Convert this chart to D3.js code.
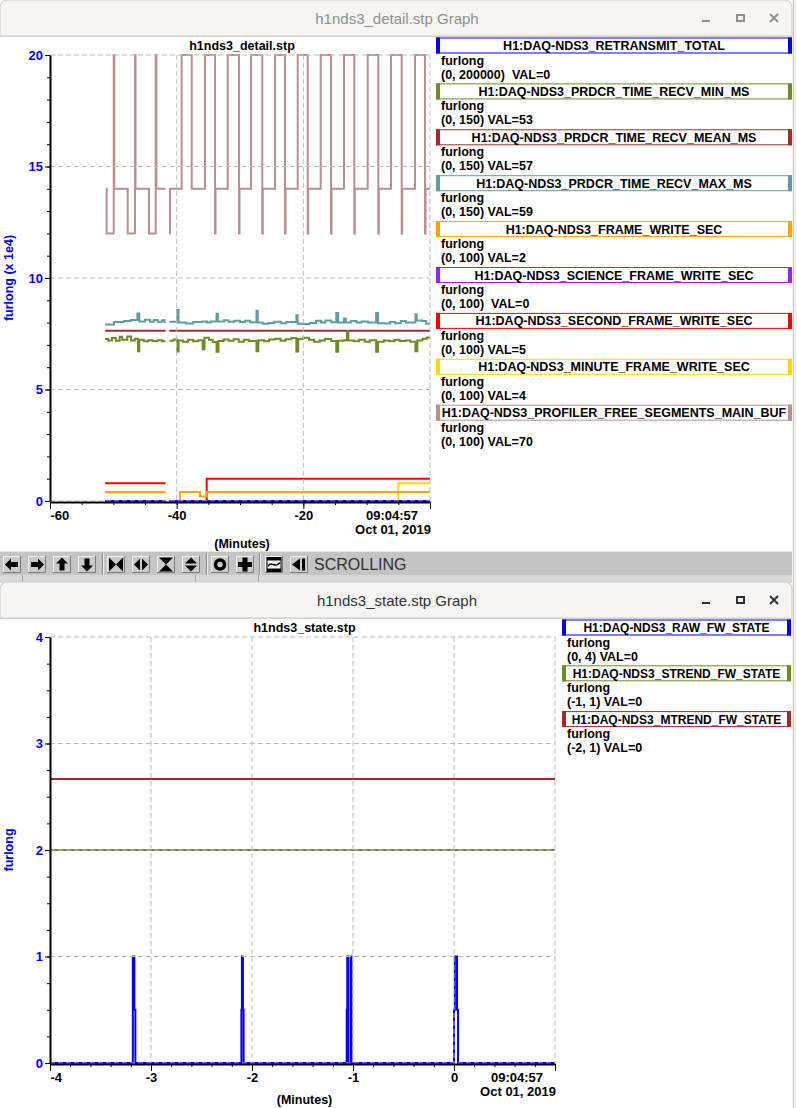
<!DOCTYPE html>
<html>
<head>
<meta charset="utf-8">
<script src="https://cdn.jsdelivr.net/npm/d3@7"></script>
<style>
  body { margin: 0; background: #ffffff; }
  svg text { font-family: "Liberation Sans", Arial, sans-serif; }
  .pre { white-space: pre; }
</style>
</head>
<body>
<svg id="shot" width="797" height="1108"></svg>
<script>
// ---------- h1nds3_detail.stp (top graph) ----------
var detailChannels = [
  "H1:DAQ-NDS3_RETRANSMIT_TOTAL",
  "H1:DAQ-NDS3_PRDCR_TIME_RECV_MIN_MS",
  "H1:DAQ-NDS3_PRDCR_TIME_RECV_MEAN_MS",
  "H1:DAQ-NDS3_PRDCR_TIME_RECV_MAX_MS",
  "H1:DAQ-NDS3_FRAME_WRITE_SEC",
  "H1:DAQ-NDS3_SCIENCE_FRAME_WRITE_SEC",
  "H1:DAQ-NDS3_SECOND_FRAME_WRITE_SEC",
  "H1:DAQ-NDS3_MINUTE_FRAME_WRITE_SEC",
  "H1:DAQ-NDS3_PROFILER_FREE_SEGMENTS_MAIN_BUF"
];
var detailRanges = [[0, 200000], [0, 150], [0, 150], [0, 150], [0, 100], [0, 100], [0, 100], [0, 100], [0, 100]];
var detailValues = [0, 53, 57, 59, 2, 0, 5, 4, 70];
var detailColors = ["#0000ff", "#6b8e23", "#a52a2a", "#5f9ea0", "#ffa500", "#a020f0", "#ff0000", "#ffd700", "#bc8f8f"];
var detailXTicks = [-60, -40, -20, 0];
var detailXLabels = [-60, -40, -20];
var detailYTicks = [0, 5, 10, 15, 20];

// samples: [minutes before now, raw value]; null = no data
var retransmitTotal = [[-51.3, 0], [-41.75, null], [-41.15, 0], [0, 0]];
var recvMin = [
  [-51.3, 54.5], [-50.8, 54.0], [-50.2, 54.8], [-49.6, 53.9], [-49.0, 55.2], [-48.6, 54.2], [-47.8, 55.3],
  [-47.2, 54.0], [-46.6, 54.6], [-46.1, 50.4], [-45.9, 54.2], [-45.2, 53.7], [-44.5, 54.1], [-43.8, 53.8],
  [-43.0, 54.1], [-42.3, 53.7], [-41.75, null],
  [-41.15, 53.9], [-40.5, 54.3], [-39.9, 50.3], [-39.7, 54.0], [-39.0, 53.6], [-38.2, 54.2], [-37.4, 53.7],
  [-36.6, 54.1], [-35.9, 51.0], [-35.6, 54.9], [-34.9, 54.2], [-34.3, 53.5], [-33.7, 50.2], [-33.4, 53.8],
  [-32.6, 54.3], [-31.8, 53.9], [-31.0, 54.4], [-30.2, 53.6], [-29.4, 54.2], [-28.6, 53.8], [-27.4, 50.4],
  [-27.1, 54.1], [-26.2, 53.7], [-25.4, 54.3], [-24.5, 54.6], [-23.6, 53.9], [-22.8, 54.4], [-21.9, 54.8],
  [-21.1, 50.3], [-20.8, 54.5], [-20.0, 54.9], [-19.1, 54.2], [-18.3, 53.6], [-17.4, 54.0], [-16.6, 54.5],
  [-15.6, 53.8], [-14.8, 50.2], [-14.5, 53.9], [-13.6, 54.1], [-13.1, 57.2], [-12.9, 54.0], [-12.0, 53.7],
  [-11.2, 54.2], [-10.3, 53.6], [-9.5, 54.1], [-8.5, 50.2], [-8.2, 53.6], [-7.3, 54.0], [-6.4, 53.7],
  [-5.6, 54.2], [-4.8, 53.8], [-3.9, 54.0], [-3.1, 53.6], [-2.3, 50.4], [-2.0, 54.0], [-1.2, 54.6],
  [-0.5, 55.0], [0, 55.0]
];
var recvMean = [[-51.3, 57.3], [-41.75, null], [-41.15, 57.3], [0, 57.3]];
var recvMax = [
  [-51.3, 59.4], [-49.9, 60.2], [-48.3, 60.5], [-47.2, 60.9], [-46.2, 63.1], [-45.9, 60.4], [-45.0, 61.0],
  [-44.2, 60.3], [-43.6, 60.9], [-43.0, 60.3], [-42.3, 60.8], [-41.9, 60.2], [-41.75, null],
  [-41.15, 60.3], [-39.9, 64.2], [-39.7, 60.0], [-38.5, 59.7], [-37.4, 60.2], [-36.0, 60.4], [-35.2, 60.0],
  [-34.6, 60.4], [-33.7, 63.0], [-33.5, 60.4], [-32.5, 60.8], [-31.8, 60.3], [-30.9, 60.6], [-30.0, 60.2],
  [-29.2, 60.6], [-28.4, 60.1], [-27.4, 64.0], [-27.2, 60.0], [-26.4, 59.6], [-25.5, 59.9], [-24.6, 60.3],
  [-23.5, 59.8], [-22.7, 60.2], [-21.1, 62.5], [-20.9, 59.6], [-20.0, 59.5], [-19.0, 59.9], [-18.0, 60.6],
  [-17.2, 60.0], [-16.5, 60.7], [-15.6, 60.1], [-14.8, 63.2], [-14.5, 60.0], [-13.6, 61.4], [-13.3, 60.0],
  [-12.5, 60.5], [-11.6, 60.0], [-10.8, 60.4], [-9.8, 60.0], [-8.5, 63.2], [-8.2, 59.8], [-7.2, 59.7],
  [-6.3, 60.2], [-5.5, 59.8], [-4.6, 60.5], [-3.8, 60.0], [-2.3, 62.8], [-2.1, 60.7], [-1.2, 60.5],
  [-0.6, 59.6], [0, 59.6]
];
var frameWrite = [[-51.3, 2], [-41.75, null], [-41.15, 0], [-39.47, 2], [-36.32, 1], [-35.26, 2], [0, 2]];
var scienceFrameWrite = [[-51.3, 0], [-41.75, null], [-41.15, 0], [0, 0]];
var secondFrameWrite = [[-51.3, 4], [-41.75, null], [-41.15, 0], [-35.26, 5], [0, 5]];
var minuteFrameWrite = [[-51.3, 0], [-41.75, null], [-41.15, 0], [-5.0, 4], [0, 4]];
var freeSegments = [
  [-51.2, 70], [-51.05, 60], [-49.94, 100], [-49.85, 70], [-47.73, 60], [-46.58, 100], [-46.5, 70],
  [-44.37, 60], [-43.31, 100], [-43.2, 70], [-41.75, null],
  [-41.15, 60], [-41.05, 70], [-39.21, 100], [-37.63, 70], [-35.53, 100], [-33.95, 60], [-33.87, 70],
  [-31.94, 100], [-30.16, 60], [-30.08, 70], [-28.26, 100], [-26.48, 60], [-26.4, 70], [-24.47, 100],
  [-22.89, 60], [-22.81, 70], [-20.89, 100], [-19.31, 60], [-19.23, 70], [-17.26, 100], [-15.63, 60],
  [-15.55, 70], [-13.58, 100], [-11.95, 60], [-11.87, 70], [-9.84, 100], [-8.16, 60], [-8.08, 70],
  [-6.16, 100], [-4.47, 60], [-4.39, 70], [-2.37, 100], [-0.79, 60], [-0.71, 70], [0, 70]
];

// ---------- h1nds3_state.stp (bottom graph) ----------
var stateChannels = ["H1:DAQ-NDS3_RAW_FW_STATE", "H1:DAQ-NDS3_STREND_FW_STATE", "H1:DAQ-NDS3_MTREND_FW_STATE"];
var stateRanges = [[0, 4], [-1, 1], [-2, 1]];
var stateValues = [0, 0, 0];
var stateColors = ["#0000ff", "#6b8e23", "#a52a2a"];
var stateXTicks = [-4, -3, -2, -1, 0, 1];
var stateXLabels = [-4, -3, -2, -1, 0];
var stateYTicks = [0, 1, 2, 3, 4];
var rawFwState = [
  [-4, 0], [-3.18, 1], [-3.165, 0.5], [-3.155, 0], [-2.105, 0.5], [-2.1, 1], [-2.09, 0.5], [-2.083, 0],
  [-1.062, 0.5], [-1.057, 1], [-1.05, 0], [-1.025, 1], [-1.015, 0], [0, 0.5], [0.008, 1], [0.03, 0.5],
  [0.04, 0], [1, 0]
];
var strendFwState = [[-4, 0], [1, 0]];
var mtrendFwState = [[-4, 0], [1, 0]];

var stampTime = new Date(2019, 9, 1, 9, 4, 57);

var svg = d3.select("#shot");
var BOLD = "bold";

// ---------- desktop / window chrome ----------
svg.append("rect").attr("width", 797).attr("height", 1108).attr("fill", "#ffffff");
svg.append("rect").attr("x", 792).attr("y", 0).attr("width", 5).attr("height", 1108).attr("fill", "#f2f1f0");
svg.append("line").attr("x1", 793.5).attr("x2", 793.5).attr("y1", 0).attr("y2", 1108).attr("stroke", "#c8c8c8");

function titleBar(y0, y1, title, active) {
  var g = svg.append("g");
  g.append("path")
    .attr("d", "M0," + y1 + "V" + (y0 + 8) + "Q0," + y0 + " 8," + y0 + "H784Q792," + y0 + " 792," + (y0 + 8) + "V" + y1 + "Z")
    .attr("fill", "#f6f5f4").attr("stroke", "#cfcbc7");
  g.append("line").attr("x1", 0).attr("x2", 792).attr("y1", y1 + 0.5).attr("y2", y1 + 0.5).attr("stroke", "#d6d1cd");
  var c = active ? "#2e3436" : "#8f8f8f";
  g.append("text").attr("x", 397).attr("y", (y0 + y1) / 2 + 5.5).attr("text-anchor", "middle")
    .attr("font-size", 15).attr("fill", c).text(title);
  var cy = (y0 + y1) / 2;
  g.append("line").attr("x1", 702).attr("x2", 710).attr("y1", cy + 3).attr("y2", cy + 3).attr("stroke", c).attr("stroke-width", 2);
  g.append("rect").attr("x", 737).attr("y", cy - 3).attr("width", 7).attr("height", 6).attr("fill", "none").attr("stroke", c).attr("stroke-width", 2);
  g.append("path").attr("d", "M770," + (cy - 4) + "l8,8M778," + (cy - 4) + "l-8,8").attr("stroke", c).attr("stroke-width", 2);
}
titleBar(0, 36, "h1nds3_detail.stp Graph", false);

// toolbar of the top window
var tb = svg.append("g");
tb.append("rect").attr("x", 0).attr("y", 551).attr("width", 792).attr("height", 24).attr("fill", "#c4c4c4");
tb.append("line").attr("x1", 0).attr("x2", 792).attr("y1", 551.5).attr("y2", 551.5).attr("stroke", "#e6e6e6");
[102, 206, 259].forEach(function (sx) {
  tb.append("line").attr("x1", sx + 0.5).attr("x2", sx + 0.5).attr("y1", 553).attr("y2", 575).attr("stroke", "#8a8a8a");
  tb.append("line").attr("x1", sx + 1.5).attr("x2", sx + 1.5).attr("y1", 553).attr("y2", 575).attr("stroke", "#ececec");
});
var icons = [
  "M-7,0L-1,-6V-2.5H6V2.5H-1V6Z",
  "M7,0L1,-6V-2.5H-6V2.5H1V6Z",
  "M0,-7L-6,-1H-2.5V6H2.5V-1H6Z",
  "M0,7L-6,1H-2.5V-6H2.5V1H6Z",
  "M-7,-7L0,0L-7,7ZM7,-7L0,0L7,7Z",
  "M-1,-6L-7,0L-1,6ZM1,-6L7,0L1,6Z",
  "M-7,-7H7L0,0ZM-7,7H7L0,0Z",
  "M-6,-1L0,-7L6,-1ZM-6,1L0,7L6,1Z",
  "ring",
  "M-2.5,-7H2.5V-2.5H7V2.5H2.5V7H-2.5V2.5H-7V-2.5H-2.5Z",
  "graph",
  "M-7,0L1,-6V6ZM3,-6H6V6H3Z"
];
var btnX = [3, 28, 53, 78, 107, 132, 157, 182, 211, 236, 265, 290];
btnX.forEach(function (bx, i) {
  var by = 556, bw = 18, bh = 17, cx = bx + bw / 2, cy = by + bh / 2;
  tb.append("rect").attr("x", bx).attr("y", by).attr("width", bw).attr("height", bh).attr("fill", "#cacaca");
  tb.append("path").attr("d", "M" + (bx + 0.5) + "," + (by + bh) + "V" + (by + 0.5) + "H" + (bx + bw))
    .attr("stroke", "#f0f0f0").attr("fill", "none");
  tb.append("path").attr("d", "M" + (bx + bw - 0.5) + "," + by + "V" + (by + bh - 0.5) + "H" + bx)
    .attr("stroke", "#7a7a7a").attr("fill", "none");
  var ig = tb.append("g").attr("transform", "translate(" + cx + "," + cy + ")");
  if (icons[i] === "ring") {
    ig.append("circle").attr("r", 4.5).attr("fill", "none").attr("stroke", "#000").attr("stroke-width", 3.5);
  } else if (icons[i] === "graph") {
    ig.append("rect").attr("x", -7).attr("y", -7).attr("width", 14).attr("height", 14).attr("fill", "#fff").attr("stroke", "#000");
    ig.append("rect").attr("x", -7).attr("y", -7).attr("width", 14).attr("height", 3).attr("fill", "#000");
    ig.append("rect").attr("x", -7).attr("y", 4).attr("width", 14).attr("height", 3).attr("fill", "#000");
    ig.append("path").attr("d", "M-6,2C-3,-5 1,5 6,-2").attr("fill", "none").attr("stroke", "#000").attr("stroke-width", 1.6);
  } else {
    ig.append("path").attr("d", icons[i]).attr("fill", "#000");
  }
});
tb.append("text").attr("x", 314).attr("y", 569.5).attr("font-size", 16).attr("fill", "#303030").text("SCROLLING");

// strip of the window underneath
svg.append("rect").attr("x", 0).attr("y", 575).attr("width", 792).attr("height", 8).attr("fill", "#d9d9d9");
[22, 195, 258].forEach(function (sx) {
  svg.append("line").attr("x1", sx + 0.5).attr("x2", sx + 0.5).attr("y1", 575).attr("y2", 583).attr("stroke", "#a9a9a9");
});
titleBar(582, 618, "h1nds3_state.stp Graph", true);

// ---------- graph drawing ----------
function closeGaps(series) {
  var out = [];
  series.forEach(function (p, i) {
    if (p[1] == null && i > 0 && series[i - 1][1] != null) out.push([p[0], series[i - 1][1]]);
    out.push(p);
  });
  return out;
}

function drawGraph(o) {
  var g = svg.append("g");
  var x = d3.scaleLinear().domain(o.xDomain).range([o.left, o.right]);
  var y = d3.scaleLinear().domain(o.yDomain).range([o.bottom, o.top]);

  // traces, last channel first so the first one ends up on top
  o.series.slice().reverse().forEach(function (s) {
    var ys = d3.scaleLinear().domain(s.range).range([o.bottom, o.top]);
    var line = d3.line()
      .defined(function (d) { return d[1] != null; })
      .x(function (d) { return x(d[0]); })
      .y(function (d) { return ys(d[1]); })
      .curve(d3.curveStepAfter);
    g.append("path").attr("d", line(closeGaps(s.data)))
      .attr("fill", "none").attr("stroke", s.color).attr("stroke-width", s.width || 2);
  });

  // dashed grid
  var grid = g.append("g").attr("stroke", "#bdbdbd").attr("stroke-width", 1).attr("stroke-dasharray", "5,3");
  o.yTicks.forEach(function (v) {
    grid.append("line").attr("x1", o.left).attr("x2", o.right).attr("y1", y(v)).attr("y2", y(v));
  });
  o.xTicks.slice(1).forEach(function (v) {
    grid.append("line").attr("x1", x(v)).attr("x2", x(v)).attr("y1", o.top).attr("y2", o.bottom);
  });

  // y axis
  var yMinor = d3.range(o.yDomain[0], o.yDomain[1] + 1e-9, o.yMinorStep);
  g.append("g").attr("transform", "translate(" + o.left + ",0)")
    .call(d3.axisLeft(y).tickValues(yMinor).tickSize(3).tickSizeOuter(0).tickFormat(""))
    .call(function (a) { a.select(".domain").attr("stroke-width", 2); });
  var ya = g.append("g").attr("transform", "translate(" + o.left + ",0)")
    .call(d3.axisLeft(y).tickValues(o.yTicks).tickSize(5).tickPadding(2).tickSizeOuter(0).tickFormat(function (d) { return String(d); }));
  ya.select(".domain").remove();
  ya.selectAll("text").attr("fill", "#0000ff").attr("font-size", 13).attr("font-weight", BOLD)
    .attr("font-family", "Liberation Sans, Arial, sans-serif");

  // x axis
  var xMinor = d3.range(o.xDomain[0], o.xDomain[1] + 1e-9, o.xMinorStep);
  g.append("g").attr("transform", "translate(0," + o.axisY + ")")
    .call(d3.axisBottom(x).tickValues(xMinor).tickSize(3).tickSizeOuter(0).tickFormat(""))
    .call(function (a) { a.select(".domain").attr("stroke-width", 2); });
  var xa = g.append("g").attr("transform", "translate(0," + o.axisY + ")")
    .call(d3.axisBottom(x).tickValues(o.xTicks).tickSize(7).tickPadding(2).tickSizeOuter(0)
      .tickFormat(function (d) { return o.xLabels.indexOf(d) >= 0 ? String(d) : ""; }));
  xa.select(".domain").remove();
  xa.selectAll("text").attr("fill", "#000").attr("font-size", 13).attr("font-weight", BOLD)
    .attr("font-family", "Liberation Sans, Arial, sans-serif");
  xa.select(".tick text").attr("text-anchor", "start");

  // time stamp of the right edge
  g.append("text").attr("x", o.right - 12).attr("y", o.axisY + 18).attr("text-anchor", "end")
    .attr("font-size", 13).attr("font-weight", BOLD).text(d3.timeFormat("%H:%M:%S")(stampTime));
  g.append("text").attr("x", o.right + 1).attr("y", o.axisY + 32).attr("text-anchor", "end")
    .attr("font-size", 13).attr("font-weight", BOLD).text(d3.timeFormat("%b %d, %Y")(stampTime));
  g.append("text").attr("x", (o.left + o.right) / 2 + 2).attr("y", Math.min(o.axisY + 46, 1104)).attr("text-anchor", "middle")
    .attr("font-size", 12.5).attr("font-weight", BOLD).text("(Minutes)");

  // titles
  g.append("text").attr("x", (o.left + o.right) / 2 + 2).attr("y", o.top - 5).attr("text-anchor", "middle")
    .attr("font-size", 12.5).attr("font-weight", BOLD).text(o.title);
  g.append("text").attr("transform", "translate(13," + ((o.top + o.bottom) / 2) + ") rotate(-90)")
    .attr("text-anchor", "middle").attr("font-size", 12.5).attr("font-weight", BOLD).attr("fill", "#0000ff")
    .text(o.yTitle);
}

function drawLegend(o) {
  var g = svg.append("g");
  o.names.forEach(function (name, i) {
    var t = o.top0 + i * o.step, c = o.colors[i];
    g.append("rect").attr("x", o.x0 + 0.5).attr("y", t + 0.5).attr("width", o.x1 - o.x0 - 1).attr("height", 15)
      .attr("fill", "#fff").attr("stroke", c);
    g.append("rect").attr("x", o.x0).attr("y", t).attr("width", 4).attr("height", 16).attr("fill", c);
    g.append("rect").attr("x", o.x1 - 4).attr("y", t).attr("width", 4).attr("height", 16).attr("fill", c);
    g.append("text").attr("x", (o.x0 + o.x1) / 2).attr("y", t + 12.5).attr("text-anchor", "middle")
      .attr("font-size", o.nameSize).attr("font-weight", BOLD).text(name);
    g.append("text").attr("x", o.x0 + 5).attr("y", t + 27).attr("font-size", 12.5).attr("font-weight", BOLD).text("furlong");
    var r = o.ranges[i], v = o.values[i];
    g.append("text").attr("class", "pre").attr("x", o.x0 + 5).attr("y", t + 41)
      .attr("font-size", 12.5).attr("font-weight", BOLD)
      .text("(" + r[0] + ", " + r[1] + ")" + (o.wideZero && v === 0 ? "  " : " ") + "VAL=" + v);
  });
}

var detailData = [retransmitTotal, recvMin, recvMean, recvMax, frameWrite, scienceFrameWrite,
  secondFrameWrite, minuteFrameWrite, freeSegments];

drawGraph({
  left: 50, right: 430, top: 55, bottom: 501, axisY: 502,
  xDomain: [-60, 0], xTicks: detailXTicks, xLabels: detailXLabels, xMinorStep: 5,
  yDomain: [0, 20], yTicks: detailYTicks, yMinorStep: 1,
  title: "h1nds3_detail.stp", yTitle: "furlong (x 1e4)",
  series: detailData.map(function (d, i) { return { data: d, range: detailRanges[i], color: detailColors[i] }; })
});
drawLegend({
  names: detailChannels, ranges: detailRanges, values: detailValues, colors: detailColors,
  x0: 436, x1: 792, top0: 37.5, step: 45.9, nameSize: 12.5, wideZero: true
});

var stateData = [rawFwState, strendFwState, mtrendFwState];
drawGraph({
  left: 50, right: 555, top: 637, bottom: 1063, axisY: 1064,
  xDomain: [-4, 1], xTicks: stateXTicks, xLabels: stateXLabels, xMinorStep: 0.2,
  yDomain: [0, 4], yTicks: stateYTicks, yMinorStep: 0.25,
  title: "h1nds3_state.stp", yTitle: "furlong",
  series: stateData.map(function (d, i) { return { data: d, range: stateRanges[i], color: stateColors[i] }; })
});
drawLegend({
  names: stateChannels, ranges: stateRanges, values: stateValues, colors: stateColors,
  x0: 562, x1: 791, top0: 619.5, step: 45.8, nameSize: 12, wideZero: false
});
</script>
</body>
</html>
